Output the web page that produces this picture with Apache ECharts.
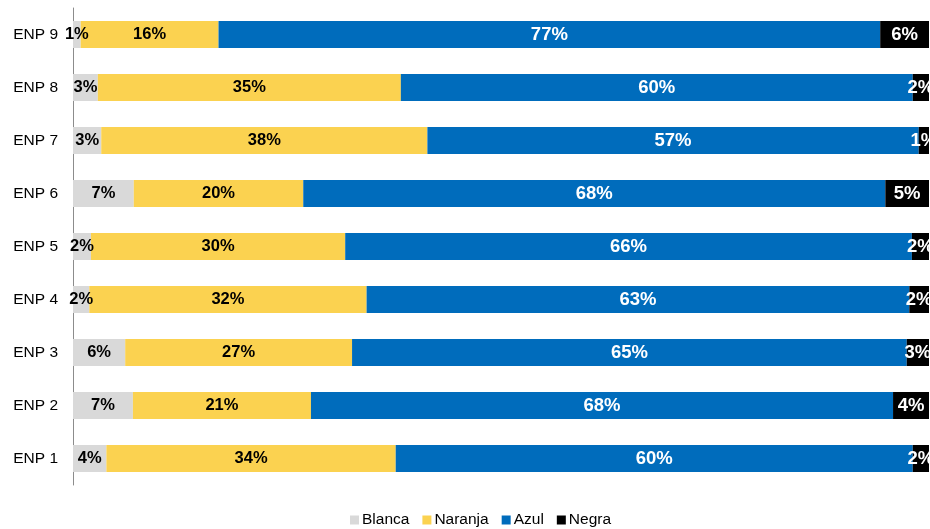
<!DOCTYPE html>
<html>
<head>
<meta charset="utf-8">
<script src="https://cdn.jsdelivr.net/npm/echarts@6/dist/echarts.min.js"></script>
<style>html,body{margin:0;padding:0;background:#fff}#c{width:930px;height:529px}</style>
</head>
<body>
<div id="c"></div>
<script>
const categories = ['ENP 1','ENP 2','ENP 3','ENP 4','ENP 5','ENP 6','ENP 7','ENP 8','ENP 9'];
const blanca  = [3.9, 7.0, 6.1, 1.9, 2.1, 7.1, 3.3, 2.9, 0.9];
const naranja = [33.8, 20.8, 26.5, 32.4, 29.7, 19.8, 38.1, 35.4, 16.1];
const azul    = [60.4, 68.0, 64.8, 63.4, 66.2, 68.0, 57.4, 59.8, 77.3];
const negra   = [1.9, 4.2, 2.6, 2.3, 2.0, 5.1, 1.2, 1.9, 5.7];
const seriesNames = ['Blanca','Naranja','Azul','Negra'];
const seriesColors = ['#D9D9D9','#FBD250','#006CBC','#000000'];
const labelColors = ['#000','#000','#fff','#fff'];
const labelSizes = [16.5, 16.5, 18.5, 18.5];

const FONT = 'Liberation Sans, Arial, sans-serif';
const chart = echarts.init(document.getElementById('c'), null, {renderer:'canvas'});
const dataSets = [blanca, naranja, azul, negra];
chart.setOption({
  animation:false,
  textStyle:{fontFamily:FONT},
  grid:{left:73,right:1,top:8,bottom:44,containLabel:false},
  legend:{
    data:seriesNames, left:345, top:507, itemWidth:9, itemHeight:9, itemGap:13,
    icon:'rect',
    textStyle:{fontSize:15.5,color:'#000',fontFamily:FONT, padding:[0,0,0,-2]}
  },
  xAxis:{type:'value',min:0,max:100,show:false,splitLine:{show:false}},
  yAxis:{
    type:'category', data:categories,
    axisLine:{show:true,lineStyle:{color:'#8c8c8c',width:1}},
    axisTick:{show:false},
    axisLabel:{color:'#000',fontSize:15.5,margin:15,fontFamily:FONT}
  },
  series: dataSets.map((d,i)=>({
    name:seriesNames[i], type:'bar', stack:'t', data:d, barWidth:27,
    itemStyle:{color:seriesColors[i]},
    label:{show:true,position:'inside',color:labelColors[i],fontWeight:'bold',fontSize:labelSizes[i],
      fontFamily:FONT,
      formatter:p=>Math.round(p.value)+'%'},
    labelLayout:{hideOverlap:false}
  }))
});
</script>
</body>
</html>
